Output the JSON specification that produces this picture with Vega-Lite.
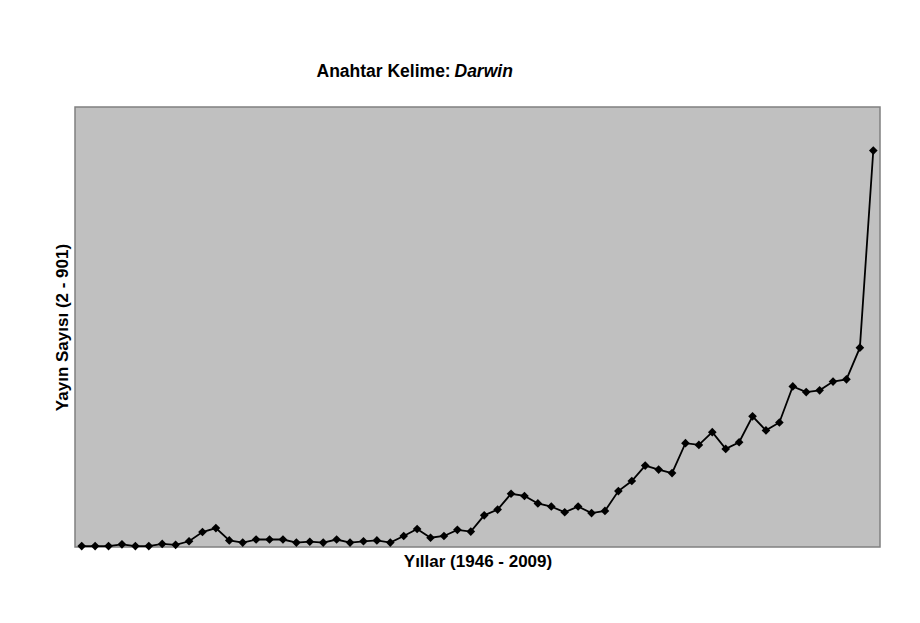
{
  "$schema": "https://vega.github.io/schema/vega-lite/v6.json",
  "autosize": {"type": "none"},
  "width": 805,
  "height": 440,
  "padding": {"left": 75, "top": 107, "right": 40, "bottom": 76},
  "background": "white",
  "config": {
    "view": {"fill": "#c0c0c0", "stroke": "#808080", "strokeWidth": 1.5},
    "font": "Liberation Sans"
  },
  "data": {
    "values": [
      {"yil": 1950, "yayin": 2}, {"yil": 1951, "yayin": 2}, {"yil": 1952, "yayin": 2}, {"yil": 1953, "yayin": 6},
      {"yil": 1954, "yayin": 2}, {"yil": 1955, "yayin": 2}, {"yil": 1956, "yayin": 7}, {"yil": 1957, "yayin": 5},
      {"yil": 1958, "yayin": 13}, {"yil": 1959, "yayin": 34}, {"yil": 1960, "yayin": 43}, {"yil": 1961, "yayin": 15},
      {"yil": 1962, "yayin": 10}, {"yil": 1963, "yayin": 17}, {"yil": 1964, "yayin": 17}, {"yil": 1965, "yayin": 17},
      {"yil": 1966, "yayin": 10}, {"yil": 1967, "yayin": 12}, {"yil": 1968, "yayin": 10}, {"yil": 1969, "yayin": 17},
      {"yil": 1970, "yayin": 10}, {"yil": 1971, "yayin": 13}, {"yil": 1972, "yayin": 15}, {"yil": 1973, "yayin": 10},
      {"yil": 1974, "yayin": 25}, {"yil": 1975, "yayin": 41}, {"yil": 1976, "yayin": 21}, {"yil": 1977, "yayin": 25},
      {"yil": 1978, "yayin": 39}, {"yil": 1979, "yayin": 35}, {"yil": 1980, "yayin": 72}, {"yil": 1981, "yayin": 85},
      {"yil": 1982, "yayin": 121}, {"yil": 1983, "yayin": 116}, {"yil": 1984, "yayin": 99}, {"yil": 1985, "yayin": 92},
      {"yil": 1986, "yayin": 79}, {"yil": 1987, "yayin": 92}, {"yil": 1988, "yayin": 77}, {"yil": 1989, "yayin": 82},
      {"yil": 1990, "yayin": 127}, {"yil": 1991, "yayin": 150}, {"yil": 1992, "yayin": 185}, {"yil": 1993, "yayin": 176},
      {"yil": 1994, "yayin": 168}, {"yil": 1995, "yayin": 236}, {"yil": 1996, "yayin": 232}, {"yil": 1997, "yayin": 261},
      {"yil": 1998, "yayin": 223}, {"yil": 1999, "yayin": 238}, {"yil": 2000, "yayin": 297}, {"yil": 2001, "yayin": 265},
      {"yil": 2002, "yayin": 283}, {"yil": 2003, "yayin": 365}, {"yil": 2004, "yayin": 352}, {"yil": 2005, "yayin": 356},
      {"yil": 2006, "yayin": 376}, {"yil": 2007, "yayin": 381}, {"yil": 2008, "yayin": 453}, {"yil": 2009, "yayin": 901}
    ]
  },
  "resolve": {"axis": {"x": "independent", "y": "independent"}},
  "layer": [
    {
      "mark": {"type": "line", "color": "black", "strokeWidth": 1.8},
      "encoding": {
        "x": {
          "field": "yil", "type": "ordinal",
          "scale": {"type": "point", "padding": 0.5},
          "axis": {
            "title": "Yıllar (1946 - 2009)", "labels": false, "ticks": false, "domain": false,
            "titleFontSize": 17, "titleFontWeight": "bold", "titleColor": "black", "titlePadding": 6,
            "titleFont": "Liberation Sans"
          }
        },
        "y": {
          "field": "yayin", "type": "quantitative",
          "scale": {"domain": [0, 1000], "nice": false},
          "axis": {
            "title": "Yayın Sayısı (2 - 901)", "labels": false, "ticks": false, "domain": false, "grid": false,
            "titleFontSize": 17, "titleFontWeight": "bold", "titleColor": "black", "titlePadding": 4,
            "titleFont": "Liberation Sans"
          }
        }
      }
    },
    {
      "mark": {"type": "point", "shape": "diamond", "filled": true, "color": "black", "size": 75, "opacity": 1},
      "encoding": {
        "x": {
          "field": "yil", "type": "ordinal",
          "scale": {"type": "point", "padding": 0.5},
          "axis": {
            "orient": "top", "title": "Anahtar Kelime:", "labels": false, "ticks": false, "domain": false,
            "titleFontSize": 17.5, "titleFontWeight": "bold", "titleColor": "black",
            "titleFont": "Liberation Sans", "titleAnchor": "start", "titleAlign": "left",
            "titleX": 241, "titleY": -31, "titleBaseline": "alphabetic"
          }
        },
        "y": {
          "field": "yayin", "type": "quantitative",
          "axis": {
            "orient": "right", "title": "Darwin", "labels": false, "ticks": false, "domain": false, "grid": false,
            "titleAngle": 0, "titleFontSize": 17.5, "titleFontWeight": "bold", "titleFontStyle": "italic",
            "titleColor": "black", "titleFont": "Liberation Sans", "titleAlign": "left",
            "titleX": -426, "titleY": -31, "titleBaseline": "alphabetic"
          }
        }
      }
    }
  ]
}
